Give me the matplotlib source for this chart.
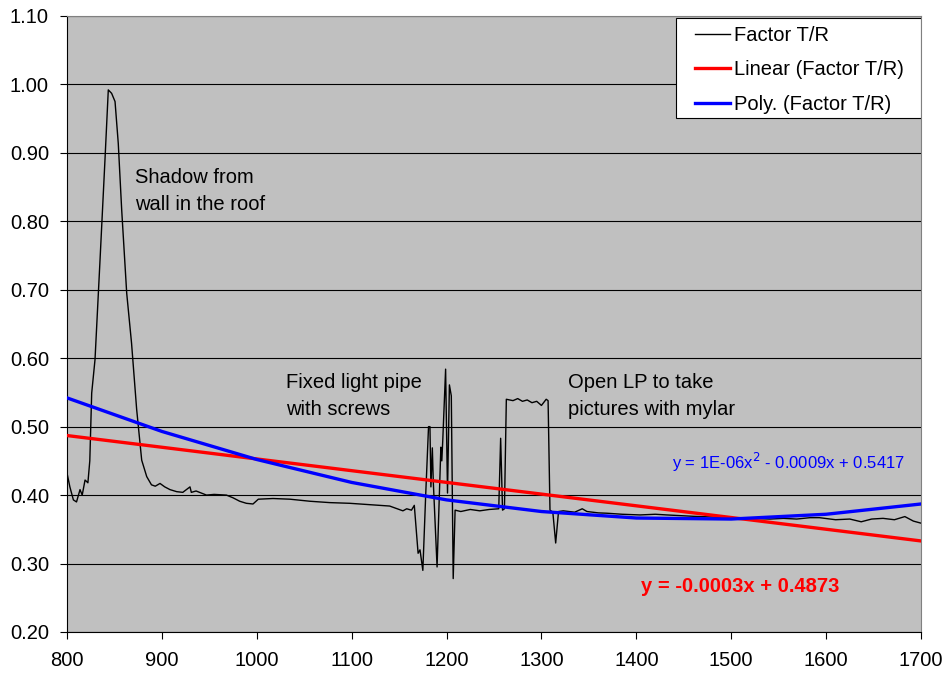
import matplotlib
matplotlib.use("Agg")
from matplotlib import pyplot as plt
from matplotlib.patches import Rectangle
import numpy as np

plt.rcParams['font.family'] = ['Liberation Sans', 'DejaVu Sans']

wl = [800, 803, 806.7, 810, 813.7, 816, 819, 822, 824, 826, 829.5, 834.8, 840, 843.5,
      847, 850.6, 854, 857.6, 862.9, 868, 873.4, 878.7, 884, 889, 893, 898, 903, 908.5,
      915.6, 922, 929.6, 931, 936, 947, 955, 968, 975, 982, 989, 996, 1001.6, 1017,
      1035, 1056, 1077, 1098, 1119, 1140, 1154, 1158, 1163, 1166, 1170, 1172, 1175,
      1178, 1181, 1182.5, 1183.5, 1185, 1186, 1190, 1194, 1195, 1196, 1199, 1201,
      1203, 1205, 1207, 1209, 1215, 1225, 1235, 1245, 1255, 1257, 1259, 1261, 1263,
      1270, 1275, 1280, 1285, 1290, 1295, 1300, 1305, 1307, 1309, 1312, 1315, 1318,
      1323, 1335, 1343, 1348, 1360, 1369, 1385, 1404, 1420, 1432, 1446, 1460, 1480,
      1500, 1520, 1541, 1555, 1569, 1583, 1593, 1610, 1625, 1637, 1648, 1660, 1672,
      1683, 1692, 1700]
factor = [0.432, 0.412, 0.393, 0.390, 0.408, 0.400, 0.422, 0.418, 0.45, 0.549, 0.598,
          0.744, 0.890, 0.992, 0.987, 0.975, 0.914, 0.817, 0.695, 0.622, 0.525, 0.451,
          0.427, 0.415, 0.413, 0.417, 0.412, 0.408, 0.405, 0.404, 0.412, 0.404, 0.406,
          0.400, 0.401, 0.400, 0.396, 0.391, 0.388, 0.387, 0.394, 0.395, 0.394, 0.391,
          0.389, 0.388, 0.386, 0.384, 0.377, 0.380, 0.378, 0.385, 0.315, 0.320, 0.290,
          0.400, 0.500, 0.500, 0.412, 0.469, 0.420, 0.295, 0.470, 0.450, 0.480, 0.584,
          0.403, 0.561, 0.545, 0.278, 0.378, 0.376, 0.379, 0.377, 0.379, 0.380, 0.483,
          0.378, 0.380, 0.540, 0.538, 0.541, 0.537, 0.539, 0.535, 0.537, 0.531, 0.540,
          0.538, 0.378, 0.375, 0.330, 0.376, 0.377, 0.375, 0.380, 0.376, 0.374, 0.3735,
          0.372, 0.371, 0.372, 0.371, 0.370, 0.369, 0.368, 0.367, 0.366, 0.365, 0.366,
          0.365, 0.367, 0.367, 0.364, 0.365, 0.361, 0.365, 0.366, 0.364, 0.3686, 0.362,
          0.359]

# trendlines as drawn in the chart
lin_x = [800, 1700]
lin_y = [0.487, 0.333]
poly_x = [800, 900, 1000, 1100, 1200, 1300, 1400, 1500, 1600, 1700]
poly_y = [0.542, 0.493, 0.452, 0.4185, 0.393, 0.376, 0.3665, 0.365, 0.372, 0.387]

fig = plt.figure(figsize=(9.48, 6.77), dpi=100)
ax = fig.add_axes([0.0707, 0.0665, 0.9008, 0.9099])
ax.set_facecolor('#C0C0C0')

ax.plot(wl, factor, color='black', lw=1.0, label='Factor T/R', zorder=3)
ax.plot(lin_x, lin_y, color='#FF0000', lw=2.4, label='Linear (Factor T/R)', zorder=4)
ax.plot(poly_x, poly_y, color='#0000FF', lw=2.4, label='Poly. (Factor T/R)', zorder=5)

ax.set_xlim(800, 1700)
ax.set_ylim(0.2, 1.1)
ax.set_xticks(np.arange(800, 1701, 100))
ax.set_yticks(np.arange(0.2, 1.101, 0.1))
ax.set_yticklabels(['%.2f' % v for v in np.arange(0.2, 1.101, 0.1)])
ax.tick_params(labelsize=14.5, length=5, direction='out', color='black')
ax.tick_params(axis='x', pad=9)
ax.tick_params(axis='y', pad=8)
ax.grid(axis='y', color='black', lw=0.8)
ax.set_axisbelow(True)
for s in ['top', 'right']:
    ax.spines[s].set_color('#808080')
for s in ['left', 'bottom']:
    ax.spines[s].set_color('black')

ax.text(872, 0.878, 'Shadow from\nwall in the roof', fontsize=14.5, va='top', linespacing=1.55)
ax.text(1031, 0.579, 'Fixed light pipe\nwith screws', fontsize=14.5, va='top', linespacing=1.55)
ax.text(1328, 0.579, 'Open LP to take\npictures with mylar', fontsize=14.5, va='top',
        linespacing=1.55)
ax.text(1683, 0.447, 'y = 1E-06x$^{2}$ - 0.0009x + 0.5417', fontsize=12,
        color='#0000FF', ha='right', va='center')
ax.text(1509, 0.266, 'y = -0.0003x + 0.4873', fontsize=14.5, fontweight='bold',
        color='#FF0000', ha='center', va='center')

# legend box drawn separately (wider side padding than matplotlib's)
box = Rectangle((0.7131, 0.8344), 0.2869, 0.1624, transform=ax.transAxes,
                facecolor='white', edgecolor='black', lw=0.8, zorder=6)
ax.add_patch(box)
leg = ax.legend(loc='upper right', bbox_to_anchor=(0.9800, 0.9838), borderaxespad=0,
                fontsize=14.5, frameon=False, handlelength=1.75, handletextpad=0.2,
                labelspacing=0.77, borderpad=0)
leg.set_zorder(7)

fig.savefig('out.png', dpi=100)
